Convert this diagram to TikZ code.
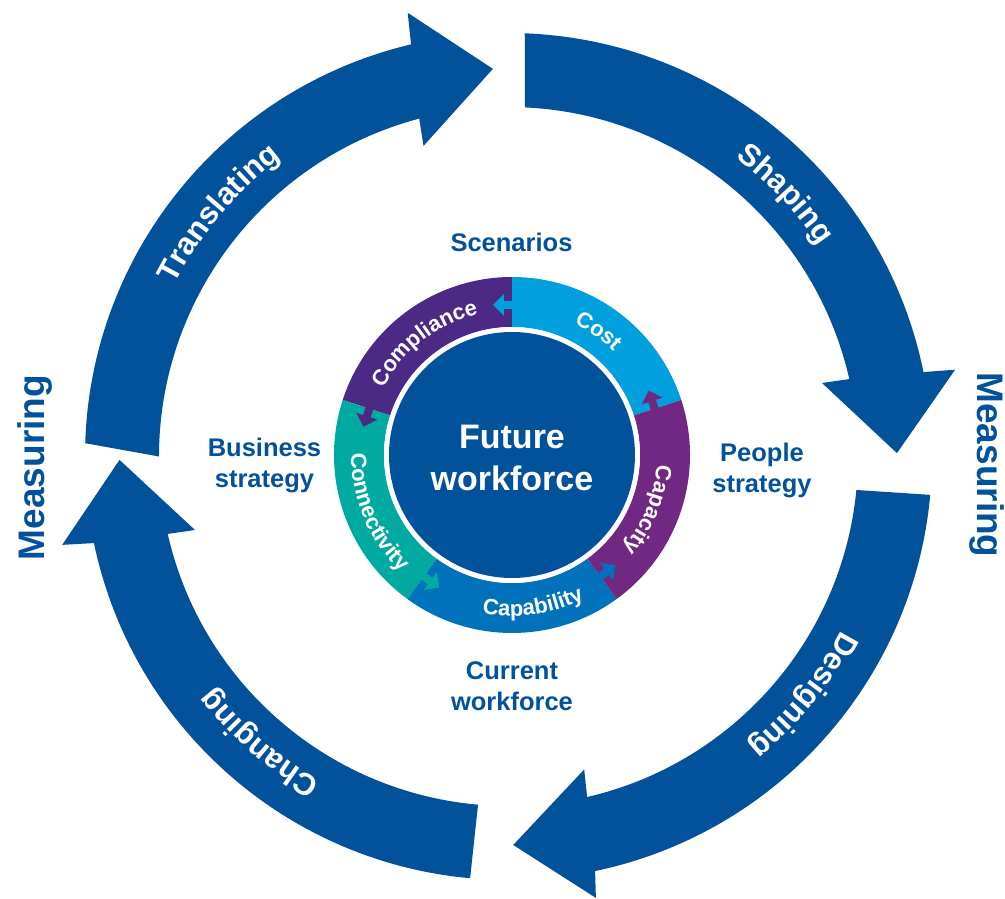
\documentclass[tikz,border=0pt]{standalone}
\usepackage{fontspec}
\setmainfont{Liberation Sans}
\usepackage{tikz}
\usetikzlibrary{decorations.text}
\definecolor{darkblue}{RGB}{1,81,155}
\definecolor{costblue}{RGB}{0,159,222}
\definecolor{complpurple}{RGB}{75,41,133}
\definecolor{connteal}{RGB}{0,170,160}
\definecolor{capblue}{RGB}{0,114,188}
\definecolor{capacpurple}{RGB}{112,40,130}
\newcommand{\arrowfont}{\bfseries\fontsize{31}{36}\selectfont\color{white}}
\newcommand{\ringfont}{\bfseries\fontsize{22}{26}\selectfont\color{white}}

\begin{document}
\begin{tikzpicture}
[x=1pt, y=1pt,
 lbl/.style={text=darkblue, font=\bfseries\fontsize{25.5}{31}\selectfont, align=center},
 meas/.style={text=darkblue, font=\bfseries\fontsize{37}{40}\selectfont},
 core/.style={text=white, font=\bfseries\fontsize{34}{42}\selectfont, align=center},
 bigtext/.style={decorate, decoration={text along path, text align=center, text={|\arrowfont|#1}}},
 ringtext/.style={decorate, decoration={text along path, text align=center, text={|\ringfont|#1}}}]
\useasboundingbox (-508.5,-442.5) rectangle (496.5,456.5);
\fill[darkblue] (178.2:423.5) arc[start angle=178.2, end angle=103.3, radius=423.5] -- (102.8:455) -- (92.3:388) -- (105.3:322) -- (104.8:349.5) arc[start angle=104.8, end angle=180, radius=349.5] -- cycle;
\fill[darkblue] (87.8:423.5) arc[start angle=87.8, end angle=11.5, radius=423.5] -- (11:455) -- (0.5:388.5) -- (13.2:322) -- (12.8:349.5) arc[start angle=12.8, end angle=87.3, radius=349.5] -- cycle;
\fill[darkblue] (-5.2:423.5) arc[start angle=-5.2, end angle=-78.2, radius=423.5] -- (-78.8:450) -- (-89.3:388.5) -- (-76.4:322) -- (-77:349.5) arc[start angle=-77, end angle=-5.5, radius=349.5] -- cycle;
\fill[darkblue] (264.8:423.5) arc[start angle=264.8, end angle=191.8, radius=423.5] -- (191.2:455) -- (180.5:389) -- (193.2:322) -- (192.8:349.5) arc[start angle=192.8, end angle=265, radius=349.5] -- cycle;
\path[bigtext=Translating] (170:375.5) arc[start angle=170, end angle=110, radius=375.5];
\path[bigtext=Shaping] (73.5:375.5) arc[start angle=73.5, end angle=13.5, radius=375.5];
\path[bigtext=Designing] (-9:375.5) arc[start angle=-9, end angle=-69, radius=375.5];
\path[bigtext=Changing] (-101:375.5) arc[start angle=-101, end angle=-161, radius=375.5];
\begin{scope}[shift={(3.5,1.5)}]
\fill[costblue] (18:178) arc[start angle=18, end angle=90, radius=178] -- (90:128) arc[start angle=90, end angle=18, radius=128] -- cycle;
\fill[complpurple] (90:178) arc[start angle=90, end angle=162, radius=178] -- (162:128) arc[start angle=162, end angle=90, radius=128] -- cycle;
\fill[connteal] (162:178) arc[start angle=162, end angle=234, radius=178] -- (234:128) arc[start angle=234, end angle=162, radius=128] -- cycle;
\fill[capblue] (234:178) arc[start angle=234, end angle=306, radius=178] -- (306:128) arc[start angle=306, end angle=234, radius=128] -- cycle;
\fill[capacpurple] (306:178) arc[start angle=306, end angle=378, radius=178] -- (378:128) arc[start angle=378, end angle=306, radius=128] -- cycle;
\fill[costblue, rotate=90] (146,-3) -- (146,8) -- (139,8) -- (150,19) -- (161,8) -- (154,8) -- (154,-3) -- cycle;
\fill[complpurple, rotate=162] (146,-3) -- (146,8) -- (139,8) -- (150,19) -- (161,8) -- (154,8) -- (154,-3) -- cycle;
\fill[connteal, rotate=234] (146,-3) -- (146,8) -- (139,8) -- (150,19) -- (161,8) -- (154,8) -- (154,-3) -- cycle;
\fill[capblue, rotate=306] (146,-3) -- (146,8) -- (139,8) -- (150,19) -- (161,8) -- (154,8) -- (154,-3) -- cycle;
\fill[capacpurple, rotate=18] (146,-3) -- (146,8) -- (139,8) -- (150,19) -- (161,8) -- (154,8) -- (154,-3) -- cycle;
\fill[white] (0,0) circle (128); \fill[darkblue] (0,0) circle (123);
\path[ringtext=Cost] (80:145) arc[start angle=80, end angle=30, radius=145];
\path[ringtext=Compliance] (163:145) arc[start angle=163, end angle=93, radius=145];
\path[ringtext=Connectivity] (163:161) arc[start angle=163, end angle=243, radius=161];
\path[ringtext=Capability] (238:161) arc[start angle=238, end angle=318, radius=161];
\path[ringtext=Capacity] (373:145) arc[start angle=373, end angle=303, radius=145];
\node[core] (core) at (0,-3) {Future\\workforce};
\end{scope}
\node[lbl] (scen) at (3,214.5) {Scenarios};
\node[lbl] (busi) at (-244,-9) {Business\\strategy};
\node[lbl] (peop) at (253.5,-14) {People\\strategy};
\node[lbl] (curr) at (3.5,-230) {Current\\workforce};
\node[meas, rotate=90] (measL) at (-473.3,-11) {Measuring};
\node[meas, rotate=-90] (measR) at (478.4,-8.5) {Measuring};
\end{tikzpicture}
\end{document}
